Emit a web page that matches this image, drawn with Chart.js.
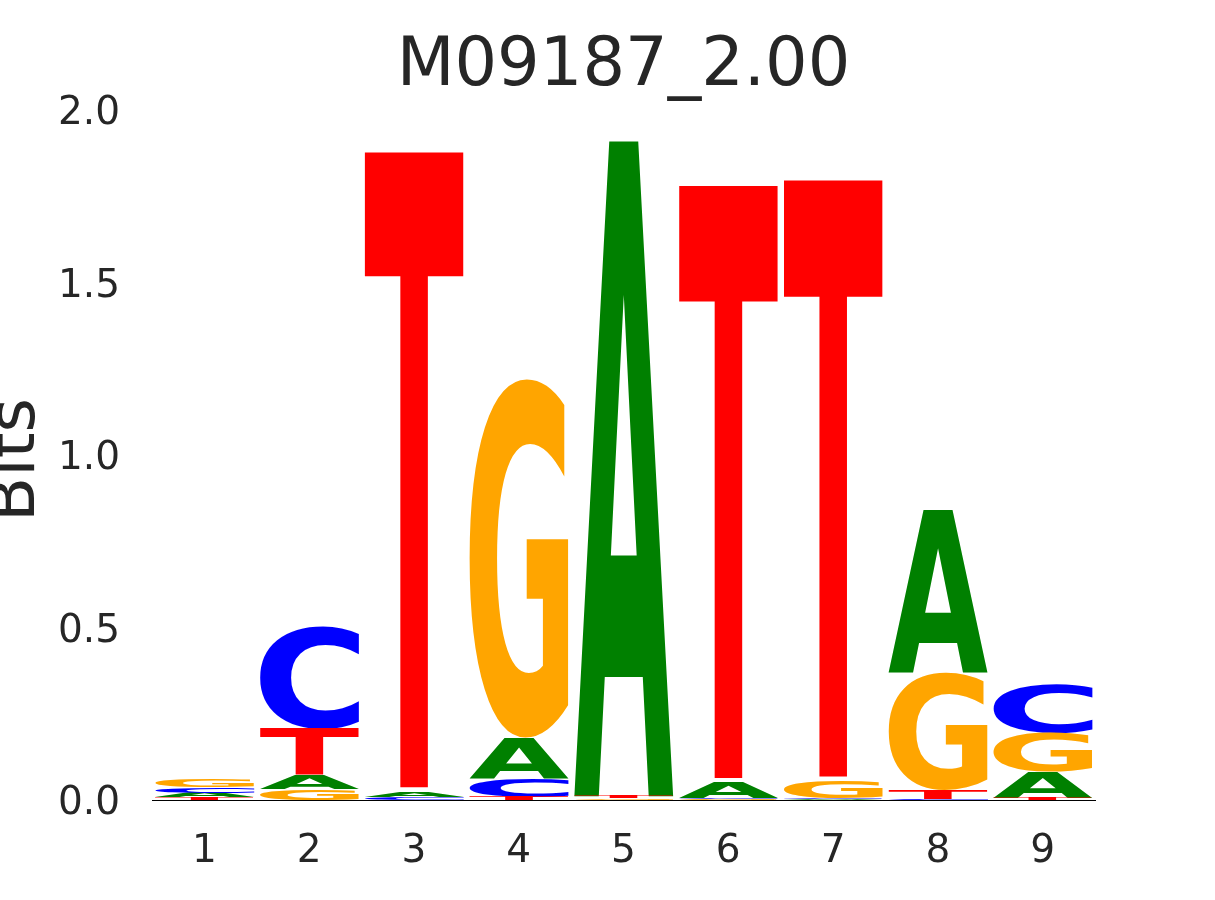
<!DOCTYPE html>
<html>
<head>
<meta charset="utf-8">
<script src="https://cdn.jsdelivr.net/npm/chart.js@4"></script>
<style>
  html, body { margin: 0; padding: 0; background: #fff; }
  #wrap { width: 1215px; height: 900px; }
</style>
</head>
<body>
<div id="wrap"><canvas id="logoChart" width="1215" height="900"></canvas></div>
<script>
// positions and letter heights (bits)
var positions = ['1', '2', '3', '4', '5', '6', '7', '8', '9'];
var letters = ['A', 'C', 'G', 'T'];
var heightsA = [0.013, 0.040, 0.016, 0.116, 1.900, 0.045, 0.003, 0.470, 0.075];
var heightsC = [0.016, 0.300, 0.007, 0.055, 0.001, 0.005, 0.003, 0.002, 0.142];
var heightsG = [0.022, 0.032, 0.001, 1.043, 0.004, 0.002, 0.050, 0.342, 0.113];
var heightsT = [0.008, 0.135, 1.855, 0.009, 0.006, 1.730, 1.742, 0.025, 0.007];
var yTicks = [0, 0.5, 1.0, 1.5, 2.0];

var colors = { A: '#008000', C: '#0000ff', G: '#ffa500', T: '#ff0000' };
var heights = { A: heightsA, C: heightsC, G: heightsG, T: heightsT };

// stack letters smallest at bottom
var ranges = { A: [], C: [], G: [], T: [] };
positions.forEach(function (p, i) {
    var order = letters.slice().sort(function (a, b) { return heights[a][i] - heights[b][i]; });
    var base = 0;
    order.forEach(function (l) {
        ranges[l][i] = [base, base + heights[l][i]];
        base += heights[l][i];
    });
});

var datasets = letters.map(function (l) {
    return {
        label: l,
        data: ranges[l],
        backgroundColor: 'rgba(0,0,0,0)',
        borderWidth: 0,
        grouped: false,
        barPercentage: 0.95,
        categoryPercentage: 1.0
    };
});

var glyphFont = 'bold 200px "DejaVu Sans"';

var glyphPlugin = {
    id: 'glyphs',
    afterDatasetsDraw: function (chart) {
        var ctx = chart.ctx;
        chart.data.datasets.forEach(function (ds, di) {
            var meta = chart.getDatasetMeta(di);
            var ch = ds.label;
            meta.data.forEach(function (bar) {
                var top = Math.min(bar.y, bar.base);
                var h = Math.abs(bar.base - bar.y);
                if (h < 0.3) return;
                var x0 = bar.x - bar.width / 2;
                ctx.save();
                ctx.font = glyphFont;
                ctx.textAlign = 'left';
                ctx.textBaseline = 'alphabetic';
                var m = ctx.measureText(ch);
                var gw = m.actualBoundingBoxLeft + m.actualBoundingBoxRight;
                var gh = m.actualBoundingBoxAscent + m.actualBoundingBoxDescent;
                ctx.translate(x0, top);
                ctx.scale(bar.width / gw, h / gh);
                ctx.fillStyle = colors[ch];
                ctx.fillText(ch, m.actualBoundingBoxLeft, m.actualBoundingBoxAscent);
                ctx.restore();
            });
        });
    }
};

var textPlugin = {
    id: 'texts',
    afterDraw: function (chart) {
        var ctx = chart.ctx;
        var area = chart.chartArea;
        ctx.save();
        ctx.fillStyle = '#262626';
        ctx.font = '67px "DejaVu Sans"';
        ctx.textAlign = 'center';
        ctx.textBaseline = 'alphabetic';
        ctx.fillText('M09187_2.00', (area.left + area.right) / 2, 85);
        ctx.translate(34, 460);
        ctx.rotate(-Math.PI / 2);
        ctx.font = '66px "DejaVu Sans"';
        ctx.fillText('Bits', 0, 0);
        ctx.restore();
    }
};

var ctxLogo = document.getElementById('logoChart').getContext('2d');
var logoChart = new Chart(ctxLogo, {
    type: 'bar',
    data: {
        labels: positions,
        datasets: datasets
    },
    options: {
        responsive: false,
        animation: false,
        layout: {
            padding: { top: 110, right: 120, left: 0, bottom: 0 }
        },
        scales: {
            x: {
                grid: { display: false, drawTicks: false },
                border: { display: true, color: '#000', width: 1 },
                ticks: {
                    color: '#262626',
                    font: { family: 'DejaVu Sans', size: 39 },
                    padding: 28
                },
                afterFit: function (scale) { scale.height = 100; }
            },
            y: {
                min: 0,
                max: 2,
                grid: { display: false, drawTicks: false },
                border: { display: false },
                afterBuildTicks: function (scale) {
                    scale.ticks = yTicks.map(function (v) { return { value: v }; });
                },
                ticks: {
                    color: '#262626',
                    font: { family: 'DejaVu Sans', size: 39 },
                    padding: 32,
                    labelOffset: 4,
                    callback: function (v) { return Number(v).toFixed(1); }
                },
                afterFit: function (scale) { scale.width = 152; }
            }
        },
        plugins: {
            legend: { display: false },
            tooltip: { enabled: false },
            title: { display: false }
        }
    },
    plugins: [glyphPlugin, textPlugin]
});
</script>
</body>
</html>
